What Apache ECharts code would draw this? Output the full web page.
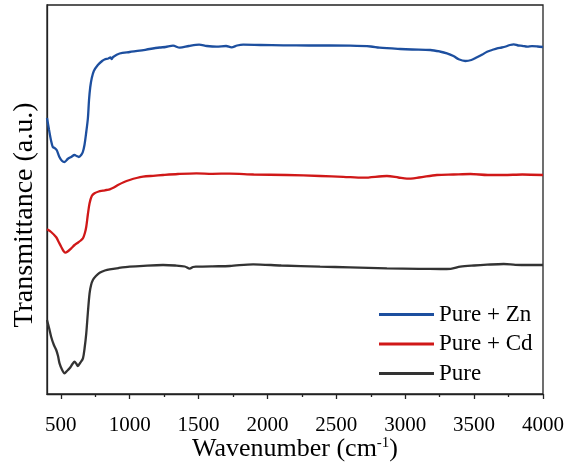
<!DOCTYPE html>
<html>
<head>
<meta charset="utf-8">
<title>FTIR</title>
<script src="https://cdn.jsdelivr.net/npm/echarts@6/dist/echarts.min.js"></script>
<style>
    html, body { margin: 0; padding: 0; background: #fff; }
    #chart { width: 572px; height: 465px; }
</style>
</head>
<body>
<div id="chart"></div>
<script>
// 横坐标刻度
var xTicks = [500, 1000, 1500, 2000, 2500, 3000, 3500, 4000];
var xMinorTicks = [750, 1250, 1750, 2250, 2750, 3250, 3750];

// Pure + Zn
var wnZn = [400, 415, 430, 442, 455, 470, 490, 510, 527, 550, 575, 600, 615, 631, 648, 660, 672, 685, 697, 705,
    714, 725, 740, 769, 800, 818, 845, 860, 870, 880, 927, 1000, 1073, 1145, 1218, 1260, 1315, 1364, 1430, 1504,
    1560, 1630, 1700, 1739, 1780, 1824, 1950, 2115, 2300, 2450, 2600, 2750, 2813, 2964, 3050, 3182, 3250, 3303, 3350, 3388,
    3436, 3480, 3521, 3560, 3594, 3630, 3667, 3700, 3730, 3760, 3788, 3820, 3850, 3885, 3920, 3960, 4000];
var tZn = [276, 264, 253, 247, 246, 244, 237, 233, 232, 235, 237, 239, 238, 237, 239, 242, 249, 262, 276, 294,
    307, 316, 323, 329, 333, 334.5, 335.5, 336.5, 335, 337, 340.5, 342, 343.3, 345, 346.5, 347, 348.3, 346.3, 348, 349.3,
    348, 347.3, 348, 346.7, 348.5, 349.3, 349, 348.7, 348.5, 348.5, 348.3, 347.5, 346.3, 345, 344.5, 344, 342.5, 340.7, 338, 334.7,
    333, 334, 336.7, 339.5, 342.3, 344, 345.7, 346.5, 347.5, 349, 349.7, 348.5, 348.2, 347.3, 347.8, 347.5, 347];

// Pure + Cd
var wnCd = [400, 430, 467, 485, 503, 520, 532, 550, 576, 600, 624, 645, 661, 675, 685, 697, 709, 725, 745, 775,
    806, 830, 855, 885, 915, 960, 1000, 1050, 1097, 1170, 1242, 1350, 1485, 1600, 1727, 1900, 2139, 2382, 2550, 2697,
    2867, 2950, 3012, 3100, 3230, 3350, 3473, 3600, 3715, 3850, 4000];
var tCd = [164.7, 162, 156.7, 152, 147.3, 143, 141.3, 142.5, 145.7, 149, 151.3, 153.5, 155.7, 161, 167.3, 180, 190.7, 198, 200.7, 202.5,
    203.3, 204, 204.7, 206.5, 209, 212, 214, 216, 217.3, 218.2, 219, 220, 220.7, 220.2, 220.4, 219.5, 219, 218, 217.2, 216.3,
    218, 216.5, 215.3, 216.5, 219, 219.5, 220, 219, 219, 219.5, 219];

// Pure
var wnPure = [400, 415, 430, 450, 467, 480, 491, 510, 527, 545, 564, 585, 600, 612, 624, 640, 661, 673, 685, 697,
    709, 720, 733, 755, 782, 820, 855, 920, 1000, 1100, 1242, 1330, 1400, 1436, 1460, 1485, 1600, 1727, 1897, 2100,
    2382, 2600, 2867, 3100, 3255, 3330, 3400, 3500, 3594, 3715, 3800, 3900, 4000];
var tPure = [74, 66, 57.3, 49, 44, 38, 30.7, 24, 20.7, 23, 25.7, 30, 32.3, 30.5, 28, 31, 35.7, 46, 60.7, 82,
    100.7, 109, 114, 118, 121.3, 123.5, 124.7, 126, 127.3, 128.2, 129, 128.5, 127.5, 125.3, 127, 127.3, 127.7, 128, 129.7, 128.5,
    127.3, 126.7, 125.7, 125.2, 125, 125.2, 127.3, 128.5, 129.3, 130, 129.2, 129, 129];

var FONT = 'Liberation Serif';

/** 横坐标与纵坐标合并成点 */
function toPairs(xs, ys) {
    var arr = [];
    for (var i = 0; i < xs.length; i++) {
        arr.push([xs[i], ys[i]]);
    }
    return arr;
}

/** 曲线 */
function makeLine(name, xs, ys, color) {
    return {
        name: name,
        type: 'line',
        symbol: 'none',
        smooth: 0.3,
        data: toPairs(xs, ys),
        lineStyle: { color: color, width: 2.3 },
        itemStyle: { color: color },
        animation: false
    };
}

var chart = echarts.init(document.getElementById('chart'));
var option = {
    backgroundColor: '#fff',
    grid: {
        left: 47, right: 29, top: 5, bottom: 71,
        containLabel: false,
        outerBoundsMode: 'none',
        show: true, borderColor: '#222', borderWidth: 1.3
    },
    legend: {
        orient: 'vertical',
        left: 374,
        top: 298,
        icon: 'rect',
        itemWidth: 55,
        itemHeight: 3,
        itemGap: 6.5,
        data: ['Pure + Zn', 'Pure + Cd', 'Pure'],
        textStyle: { fontFamily: FONT, fontSize: 23, color: '#000' }
    },
    xAxis: [{
        type: 'value',
        min: 400,
        max: 4000,
        name: 'Wavenumber (cm{sup|-1})',
        nameLocation: 'middle',
        nameGap: 42,
        nameMoveOverlap: false,
        nameTextStyle: {
            fontFamily: FONT, fontSize: 26, color: '#000',
            rich: { sup: { fontFamily: FONT, fontSize: 15, color: '#000', verticalAlign: 'top', padding: [0, 0, 12, 0] } }
        },
        axisLine: { lineStyle: { color: '#222', width: 1.3 } },
        axisTick: { customValues: xTicks, length: 5, lineStyle: { color: '#222', width: 1.3 } },
        axisLabel: {
            customValues: xTicks, fontFamily: FONT, fontSize: 21, color: '#000', margin: 21,
            formatter: function (v) { return String(v); }
        },
        splitLine: { show: false }
    }, {
        type: 'value',
        min: 400,
        max: 4000,
        position: 'bottom',
        axisLine: { show: false },
        axisTick: { customValues: xMinorTicks, length: 3, lineStyle: { color: '#222', width: 1.3 } },
        axisLabel: { show: false },
        splitLine: { show: false }
    }],
    yAxis: {
        type: 'value',
        min: 0,
        max: 389,
        axisLine: { show: true, lineStyle: { color: '#222', width: 1.3 } },
        axisTick: { show: false },
        axisLabel: { show: false },
        splitLine: { show: false }
    },
    graphic: [{
        type: 'text',
        x: 25,
        y: 215,
        rotation: Math.PI / 2,
        style: {
            text: 'Transmittance (a.u.)',
            font: '28px "Liberation Serif"',
            fill: '#000',
            align: 'center',
            verticalAlign: 'middle'
        }
    }],
    series: [
        makeLine('Pure + Zn', wnZn, tZn, '#1d4f9f'),
        makeLine('Pure + Cd', wnCd, tCd, '#d01818'),
        makeLine('Pure', wnPure, tPure, '#333333')
    ]
};
chart.setOption(option);
</script>
</body>
</html>
